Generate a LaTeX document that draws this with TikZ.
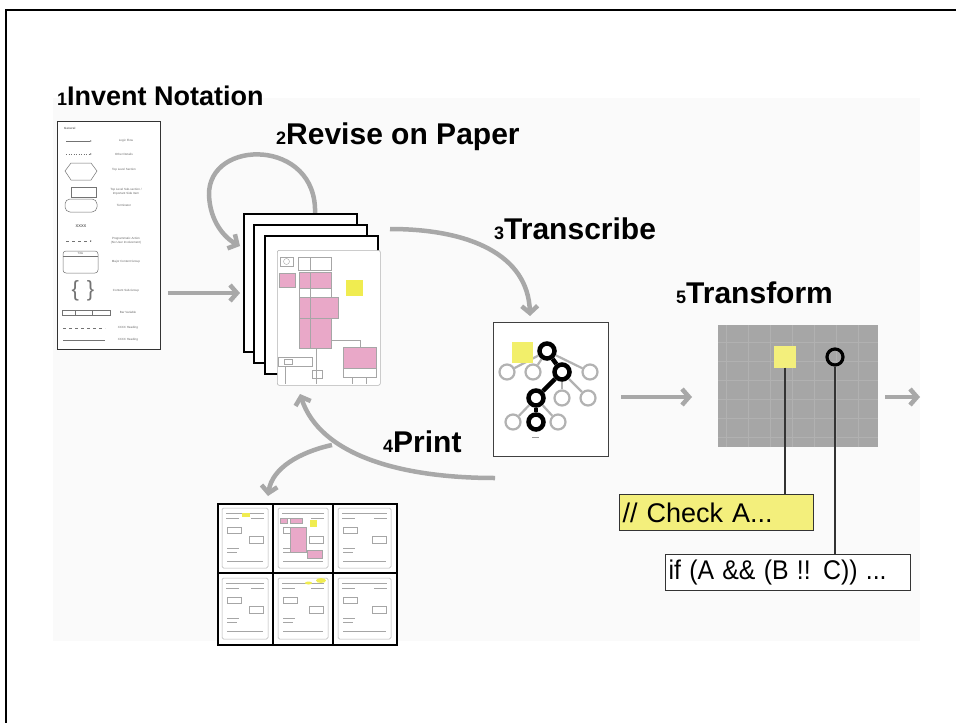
\documentclass[tikz,border=0pt]{standalone}
\usepackage{fontspec}
\setmainfont{Liberation Sans}
\usetikzlibrary{arrows.meta,calc,positioning}

\definecolor{flowgray}{HTML}{A8A8A8}
\definecolor{notepink}{HTML}{E9A8C8}
\definecolor{noteyellow}{HTML}{F0EC50}
\definecolor{codeyellow}{HTML}{F3EF7C}
\definecolor{gridgray}{HTML}{A6A6A6}
\definecolor{panelgray}{HTML}{FAFAFA}

\newcommand{\stepnum}[1]{{\fontsize{18}{18}\selectfont #1}}
\newcommand{\legfont}{\fontsize{3}{3.6}\selectfont}

\tikzset{
  flow/.style={draw=flowgray, line width=4.5, -{Straight Barb[length=7pt,width=16pt]}},
  steplabel/.style={font=\fontsize{30}{30}\bfseries\selectfont, inner sep=0, anchor=base west},
  sheet/.style={draw=black, line width=1.8, fill=white, minimum width=113, minimum height=138, anchor=north west},
  legline/.style={draw=black!55, line width=0.5},
  legtext/.style={font=\legfont, text=black!60, align=center, inner sep=0},
  pinkbox/.style={fill=notepink, draw=black!35, line width=0.3},
  thinline/.style={draw=black!35, line width=0.4},
  treegray/.style={circle, draw=black!30, line width=2.2, fill=white, minimum size=15, inner sep=0},
  treeblack/.style={circle, draw=black, line width=4.5, fill=white, minimum size=15, inner sep=0},
  codebox/.style={draw=black!80, line width=1.2, font=\fontsize{27}{27}\selectfont, inner sep=3, align=left, anchor=north west, minimum height=36},
  pointer/.style={draw=black!80, line width=1.5}
}

\begin{document}
\begin{tikzpicture}[x=1pt, y=-1pt]
  \useasboundingbox (0,0) rectangle (956,723);
  \fill[white] (0,0) rectangle (956,723);
  \fill[panelgray] (53,98) rectangle (920,641);
  \draw[line width=2] (6,723) -- (6,10) -- (956,10);

  % step labels
  \node[steplabel, font=\fontsize{27}{27}\bfseries\selectfont] (lnotation) at (57,105) {\stepnum{1}Invent Notation};
  \node[steplabel] (lrevise) at (276,144) {\stepnum{2}Revise on Paper};
  \node[steplabel] (ltranscribe) at (494,239) {\stepnum{3}Transcribe};
  \node[steplabel] (lprint) at (383,452) {\stepnum{4}Print};
  \node[steplabel] (ltransform) at (676,303) {\stepnum{5}Transform};

  % notation legend
  \node[draw=black!80, line width=0.8, fill=white, minimum width=103, minimum height=228, anchor=north west] (legend) at (57,121) {};
  \node[legtext, font=\legfont\bfseries, anchor=west] at (64,128) {General};
  \draw[legline, -{Latex[length=2pt]}] (66,141) -- (92,141);
  \node[legtext] at (126,141) {Logic Flow};
  \draw[legline, dotted, -{Latex[length=2pt]}] (66,154) -- (92,154);
  \node[legtext] at (124,154) {Other Details};
  \draw[legline] (65,171) -- (71,163) -- (91,163) -- (97,171) -- (91,180) -- (71,180) -- cycle;
  \node[legtext] at (124,170) {Top Level Section};
  \draw[legline] (71,187) rectangle (96,197);
  \node[legtext] at (126,192) {Top Level Sub-section /\\Important Side Item};
  \draw[legline, rounded corners=5] (65,199) rectangle (97,212);
  \node[legtext] at (124,205) {Terminator};
  \node[legtext, font=\fontsize{4}{4}\bfseries\selectfont] at (81,226) {XXXX};
  \draw[legline, dashed, -{Latex[length=2pt]}] (66,241) -- (92,241);
  \node[legtext] at (126,241) {Programmatic Action\\(No User Involvement)};
  \draw[legline, rounded corners=3] (63,251) rectangle (98,273);
  \draw[legline] (63,256) -- (98,256);
  \node[legtext] at (80.5,253.5) {Title};
  \node[legtext] at (126,262) {Major Content Group};
  \node[text=black!55, inner sep=0] at (83,291) {\fontsize{22}{22}\selectfont\{\hspace{8pt}\}};
  \node[legtext] at (126,291) {Content Sub-Group};
  \draw[legline] (62,310) rectangle (110,315);
  \draw[legline] (75,310) -- (75,315) (92,310) -- (92,315);
  \node[legtext] at (128,312) {Bar Variable};
  \draw[legline, dashed] (63,328) -- (105,328);
  \node[legtext] at (128,328) {XXXX Heading};
  \draw[legline] (63,340) -- (105,340);
  \node[legtext] at (128,340) {XXXX Heading};

  % revise loop and stack of sheets
  \coordinate (loopstart) at (315,214);
  \coordinate (loopend) at (240,246);
  \draw[flow] (loopstart) .. controls (318,138) and (208,138) .. (209,195)
    .. controls (210,222) and (225,238) .. (loopend);
  \foreach \i/\x/\y in {1/243/213, 2/253/224, 3/264/235}
    \node[sheet] (sheet\i) at (\x,\y) {};
  \node[draw=black!30, line width=0.6, fill=white, rounded corners=2, minimum width=103, minimum height=135, anchor=north west] (page) at (277,250) {};
  \draw[thinline] (280,257) rectangle (293,266);
  \draw[thinline] (286.5,261.5) circle (3);
  \draw[thinline] (298,257) rectangle (331,270) (310,257) -- (310,270);
  \filldraw[pinkbox] (279,273) rectangle (295,287);
  \filldraw[pinkbox] (299,272) rectangle (331,288);
  \draw[thinline] (299,288) rectangle (331,297);
  \filldraw[pinkbox] (299,297) rectangle (338,318);
  \filldraw[pinkbox] (299,318) rectangle (331,348);
  \draw[thinline] (310,272) -- (310,348);
  \fill[noteyellow] (346,280) rectangle (363,296);
  \filldraw[pinkbox] (343,347) rectangle (376,368);
  \draw[thinline] (343,368) rectangle (376,377);
  \draw[thinline] (331,340) -- (360,340) -- (360,347);
  \draw[thinline] (278,357) rectangle (312,366) (284,359) rectangle (292,364);
  \draw[thinline] (285,366) -- (285,384) (316,348) -- (316,384);
  \draw[thinline] (312,370) rectangle (322,378);
  \draw[thinline] (352,377) -- (352,384) (366,377) -- (366,384);

  \coordinate (flowy) at (0,293);
  \draw[flow, shorten <=7pt, shorten >=3pt] (legend.east |- flowy) -- (sheet1.west |- flowy);

  % transcribe
  \node[draw=black!75, line width=1.2, fill=white, minimum width=115, minimum height=134, anchor=north west] (tree) at (493,322) {};
  \coordinate (transstart) at (390,229);
  \coordinate (transend) at (530,316);
  \draw[flow] (transstart) .. controls (470,229) and (528,255) .. (transend);

  \node[treeblack] (t0) at (547,351) {};
  \node[treeblack] (t1) at (562,372) {};
  \node[treeblack] (t2) at (536,398) {};
  \node[treeblack] (t3) at (536,422) {};
  \node[treegray] (g1) at (507,372) {};
  \node[treegray] (g2) at (533,372) {};
  \node[treegray] (g3) at (590,372) {};
  \node[treegray] (g4) at (562,398) {};
  \node[treegray] (g5) at (588,398) {};
  \node[treegray] (g6) at (513,422) {};
  \node[treegray] (g7) at (558,422) {};
  \foreach \a/\b in {t0/g1, t0/g2, t0/g3, t1/g4, t1/g5, t2/g6, t2/g7}
    \draw[draw=black!30, line width=2.2] (\a) -- (\b);
  \foreach \a/\b in {t0/t1, t1/t2, t2/t3}
    \draw[line width=4.5] (\a) -- (\b);
  \fill[noteyellow!85!white] (512,342) rectangle (533,363);
  \draw[black!40, line width=0.5] (532,437) -- (539,437);

  % transform
  \node[fill=gridgray, minimum width=160, minimum height=122, inner sep=0, anchor=north west] (grid) at (718,325) {};
  \draw[gridgray!88!white, line width=0.6, xstep=22pt, ystep=19pt] (718,325) grid (878,447);
  \node[fill=codeyellow, minimum size=22, inner sep=0] (gsq) at (785,356.5) {};
  \node[circle, draw=black, line width=3.2, minimum size=16, inner sep=0] (gring) at (835,357) {};

  \coordinate (treey) at (0,397);
  \coordinate (outend) at (920,397);
  \draw[flow, shorten <=12pt, shorten >=26pt] (tree.east |- treey) -- (grid.west |- treey);
  \draw[flow, shorten <=7pt] (grid.east |- treey) -- (outend);

  \node[codebox, fill=codeyellow, text width=188] (check) at (619,494) {// Check A...};
  \node[codebox, fill=white, text width=239] (cond) at (665,554) {\scalebox{0.92}[1]{if (A \&\& (B !! C)) ...}};
  \draw[pointer] (gsq.south) -- (gsq |- check.north);
  \draw[pointer] (gring.south) -- (gring |- cond.north);

  % print
  \coordinate (printstart) at (495,478);
  \coordinate (printfork) at (332,445);
  \coordinate (printback) at (300,394);
  \coordinate (printout) at (268,496);
  \draw[flow] (printstart) .. controls (400,478) and (320,455) .. (printback);
  \draw[flow] (printfork) .. controls (300,452) and (272,468) .. (printout);

  \node[draw=black, line width=1.8, fill=white, minimum width=179, minimum height=141, anchor=north west] (prints) at (217,503) {};
  \foreach \xa/\xb in {217/273, 273/333, 333/396}
    \foreach \ya/\yb in {503/573, 573/644} {
      \draw[black!30, line width=0.5, rounded corners=1.5] (\xa+5,\ya+5) rectangle (\xb-5,\yb-5);
      \draw[thinline] (\xa+9,\ya+10) -- (\xb-9,\ya+10);
      \draw[thinline] (\xa+9,\ya+15) -- (\xa+22,\ya+15) (\xb-22,\ya+15) -- (\xb-9,\ya+15);
      \draw[thinline] (\xa+10,\ya+24) rectangle (\xa+24,\ya+30);
      \draw[thinline] (\xb-24,\ya+33) rectangle (\xb-10,\ya+40);
      \draw[thinline] (\xa+10,\ya+45) -- (\xa+22,\ya+45) (\xa+10,\ya+49) -- (\xa+20,\ya+49);
      \draw[thinline] (\xa+10,\ya+58) -- (\xb-10,\ya+58);
    }
  \draw[black, line width=1.8] (273,503) -- (273,644) (333,503) -- (333,644) (217,573) -- (396,573);
  \fill[noteyellow] (242,513) rectangle (250,517);
  \filldraw[pinkbox] (280,518) rectangle (287,523);
  \filldraw[pinkbox] (290,518) rectangle (302,523);
  \filldraw[pinkbox] (290,527) rectangle (306,552);
  \fill[noteyellow] (310,520) rectangle (317,527);
  \filldraw[pinkbox] (307,550) rectangle (322,558);
  \fill[noteyellow] (321,580.5) ellipse (5 and 2.5);
  \fill[noteyellow] (308.5,583) ellipse (3.5 and 1.5);
\end{tikzpicture}
\end{document}
